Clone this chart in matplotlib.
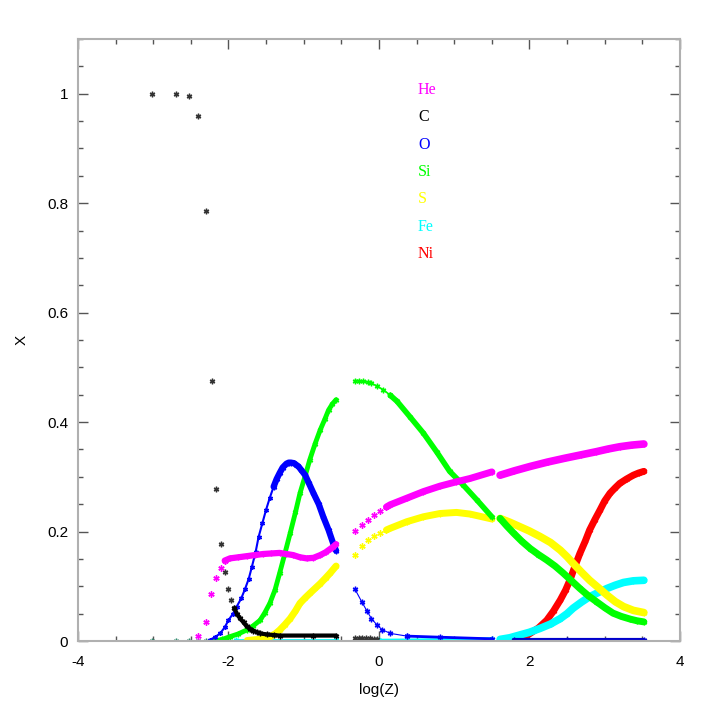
import matplotlib
matplotlib.use("Agg")
import matplotlib.pyplot as plt
from matplotlib.ticker import MultipleLocator, FuncFormatter

plt.rcParams["axes.unicode_minus"] = False
plt.rcParams["font.family"] = ["Liberation Sans", "DejaVu Sans"]

# ---- data (log Z, mass fraction X) ----
# He
he_a_pts_x = [-2.40, -2.30, -2.23, -2.16, -2.10, -2.05]
he_a_pts_y = [0.009, 0.035, 0.086, 0.116, 0.134, 0.147]
he_a_x = [-2.05, -1.98, -1.87, -1.76, -1.65, -1.54, -1.43, -1.32, -1.23, -1.14, -1.05,
          -0.96, -0.87, -0.78, -0.71, -0.65, -0.61, -0.57]
he_a_y = [0.147, 0.151, 0.153, 0.155, 0.157, 0.159, 0.160, 0.161, 0.159, 0.157, 0.153,
          0.151, 0.152, 0.157, 0.162, 0.168, 0.172, 0.177]
he_b_pts_x = [-0.32, -0.23, -0.14, -0.06, 0.02, 0.10]
he_b_pts_y = [0.201, 0.212, 0.221, 0.230, 0.238, 0.245]
he_b_x = [0.10, 0.15, 0.37, 0.59, 0.81, 1.03, 1.21, 1.50]
he_b_y = [0.245, 0.249, 0.261, 0.273, 0.283, 0.291, 0.297, 0.309]
he_c_x = [1.61, 1.80, 2.01, 2.24, 2.47, 2.68, 2.89, 3.05, 3.20, 3.36, 3.52]
he_c_y = [0.303, 0.311, 0.319, 0.327, 0.334, 0.340, 0.346, 0.351, 0.355, 0.358, 0.360]

# C
c_pts_x = [-3.02, -2.70, -2.52, -2.41, -2.30, -2.22, -2.16, -2.10, -2.05, -2.01, -1.96, -1.92]
c_pts_y = [1.0, 1.0, 0.996, 0.96, 0.786, 0.476, 0.277, 0.178, 0.126, 0.095, 0.075, 0.060]
c_a_x = [-1.92, -1.89, -1.85, -1.80, -1.76, -1.71, -1.67, -1.62, -1.58, -1.49, -1.40, -1.32, -0.88, -0.57]
c_a_y = [0.060, 0.050, 0.042, 0.034, 0.027, 0.022, 0.019, 0.016, 0.014, 0.012, 0.011, 0.010, 0.010, 0.010]
c_b_x = [-0.32, -0.27, -0.22, -0.17, -0.12, -0.07, -0.02]
c_b_y = [0.006, 0.006, 0.006, 0.005, 0.005, 0.004, 0.004]

# O
o_a1_x = [-2.25, -2.18, -2.11, -2.05, -2.00, -1.94, -1.89, -1.83, -1.78, -1.73, -1.69,
          -1.64, -1.60, -1.55, -1.50, -1.45, -1.40]
o_a1_y = [0.002, 0.007, 0.014, 0.025, 0.038, 0.050, 0.063, 0.078, 0.095, 0.114, 0.135,
          0.162, 0.190, 0.215, 0.240, 0.262, 0.282]
o_a2_x = [-1.40, -1.36, -1.32, -1.28, -1.23, -1.20, -1.17, -1.13, -1.10, -1.07, -1.03,
          -0.98, -0.93, -0.87, -0.80, -0.74, -0.67, -0.61, -0.57]
o_a2_y = [0.282, 0.296, 0.307, 0.317, 0.324, 0.326, 0.326, 0.325, 0.322, 0.319, 0.312,
          0.303, 0.288, 0.270, 0.250, 0.227, 0.203, 0.179, 0.165]
o_b1_x = [-0.32, -0.23, -0.16, -0.10, -0.03, 0.04, 0.15, 0.37]
o_b1_y = [0.095, 0.072, 0.055, 0.041, 0.030, 0.021, 0.014, 0.009]
o_b2_x = [0.37, 0.81, 1.50]
o_b2_y = [0.009, 0.007, 0.004]
o_c_x = [1.79, 2.50, 3.52]
o_c_y = [0.002, 0.002, 0.002]

# Si
si_zero_x = [-3.02, -2.70, -2.52, -2.41, -2.30]
si_zero_y = [0.0, 0.0, 0.0, 0.0, 0.0]
si_a_x = [-2.20, -2.08, -1.98, -1.87, -1.76, -1.67, -1.58, -1.52, -1.45, -1.38, -1.32, -1.25,
          -1.18, -1.11, -1.05, -0.98, -0.92, -0.85, -0.78, -0.72, -0.67, -0.62, -0.57]
si_a_y = [0.0, 0.003, 0.008, 0.013, 0.020, 0.028, 0.038, 0.051, 0.069, 0.094, 0.124, 0.160,
          0.197, 0.235, 0.270, 0.302, 0.331, 0.360, 0.386, 0.405, 0.422, 0.433, 0.441]
si_b1_x = [-0.32, -0.27, -0.21, -0.15, -0.10, -0.03, 0.06, 0.15]
si_b1_y = [0.476, 0.476, 0.475, 0.473, 0.471, 0.466, 0.459, 0.449]
si_b2_x = [0.15, 0.24, 0.41, 0.59, 0.77, 0.94, 1.12, 1.30, 1.50]
si_b2_y = [0.449, 0.438, 0.410, 0.380, 0.345, 0.310, 0.285, 0.258, 0.227]
si_c_x = [1.61, 1.70, 1.79, 1.90, 2.01, 2.12, 2.23, 2.34, 2.45, 2.56, 2.67, 2.78, 2.89,
          3.00, 3.11, 3.22, 3.34, 3.43, 3.52]
si_c_y = [0.224, 0.210, 0.197, 0.182, 0.169, 0.158, 0.148, 0.137, 0.124, 0.110, 0.096,
          0.083, 0.072, 0.061, 0.051, 0.045, 0.040, 0.037, 0.035]

# S
s_a_x = [-1.75, -1.60, -1.52, -1.45, -1.38, -1.32, -1.25, -1.18, -1.11, -1.05, -0.98,
         -0.92, -0.85, -0.78, -0.71, -0.65, -0.57]
s_a_y = [0.001, 0.003, 0.005, 0.008, 0.013, 0.020, 0.030, 0.041, 0.055, 0.069, 0.079,
         0.087, 0.096, 0.105, 0.115, 0.124, 0.137]
s_b1_x = [-0.32, -0.23, -0.14, -0.06, 0.02, 0.10]
s_b1_y = [0.158, 0.173, 0.184, 0.191, 0.198, 0.203]
s_b2_x = [0.10, 0.15, 0.37, 0.59, 0.81, 1.03, 1.21, 1.50]
s_b2_y = [0.203, 0.206, 0.218, 0.227, 0.233, 0.235, 0.232, 0.223]
s_c_x = [1.61, 1.74, 1.87, 2.00, 2.14, 2.28, 2.41, 2.50, 2.58, 2.69, 2.80, 2.92, 3.03,
         3.14, 3.25, 3.38, 3.52]
s_c_y = [0.224, 0.217, 0.209, 0.201, 0.191, 0.180, 0.166, 0.154, 0.142, 0.126, 0.111,
         0.097, 0.084, 0.072, 0.063, 0.056, 0.052]

# Fe
fe_a_x = [-1.90, -0.57]
fe_a_y = [0.001, 0.001]
fe_b_x = [0.0, 0.80, 1.50]
fe_b_y = [0.001, 0.002, 0.004]
fe_c_x = [1.61, 1.74, 1.87, 2.00, 2.14, 2.28, 2.41, 2.50, 2.58, 2.69, 2.80, 2.92, 3.03,
          3.14, 3.25, 3.38, 3.52]
fe_c_y = [0.003, 0.006, 0.011, 0.016, 0.023, 0.031, 0.041, 0.050, 0.060, 0.071, 0.081,
          0.089, 0.096, 0.102, 0.107, 0.110, 0.111]

# Ni
ni_c_x = [1.79, 1.90, 2.01, 2.12, 2.23, 2.32, 2.41, 2.48, 2.54, 2.60, 2.67, 2.74, 2.80,
          2.87, 2.94, 3.00, 3.07, 3.14, 3.20, 3.29, 3.38, 3.45, 3.52]
ni_c_y = [0.002, 0.006, 0.014, 0.024, 0.038, 0.055, 0.075, 0.093, 0.112, 0.135, 0.160,
          0.182, 0.203, 0.222, 0.240, 0.256, 0.270, 0.280, 0.288, 0.296, 0.303, 0.307, 0.310]

labels = ["He", "C", "O", "Si", "S", "Fe", "Ni"]
colors = ["#ff00ff", "#000000", "#0000ff", "#00ff00", "#ffff00", "#00ffff", "#ff0000"]

STAR = (6, 2, 0)  # asterisk marker

fig = plt.figure(figsize=(7.18, 7.18), dpi=100)
ax = fig.add_axes([0.1086, 0.1072, 0.8384, 0.8385])


def draw(x, y, color, lw=0.0, ms=4.0):
    ax.plot(x, y, color=color, lw=lw if lw > 0 else 0, linestyle="-" if lw > 0 else "none",
            marker=STAR, ms=ms, mew=1.0, solid_capstyle="round", solid_joinstyle="round")


# Ni, Fe, S, Si, O, C, He  (He ends up on top)
draw(ni_c_x, ni_c_y, colors[6], lw=5)

draw(fe_a_x, fe_a_y, colors[5], lw=2)
draw(fe_b_x, fe_b_y, colors[5], lw=2.5)
draw(fe_c_x, fe_c_y, colors[5], lw=5.5)

draw(s_a_x, s_a_y, colors[4], lw=5)
draw(s_b1_x, s_b1_y, colors[4], ms=4.5)
draw(s_b2_x, s_b2_y, colors[4], lw=5)
draw(s_c_x, s_c_y, colors[4], lw=5.5)

draw(si_zero_x, si_zero_y, "#2e8b6e")
draw(si_a_x, si_a_y, colors[3], lw=3.5)
draw(si_b1_x, si_b1_y, colors[3], lw=1.2, ms=4)
draw(si_b2_x, si_b2_y, colors[3], lw=4)
draw(si_c_x, si_c_y, colors[3], lw=5)

draw(o_a1_x, o_a1_y, colors[2], lw=1.5, ms=3.5)
draw(o_a2_x, o_a2_y, colors[2], lw=4.5)
draw(o_b1_x, o_b1_y, colors[2], lw=0.8, ms=4)
draw(o_b2_x, o_b2_y, colors[2], lw=2)
draw(o_c_x, o_c_y, "#0000cc", lw=3)

draw(c_pts_x, c_pts_y, "#333333", ms=4)
draw(c_a_x, c_a_y, colors[1], lw=3, ms=4)
draw(c_b_x, c_b_y, "#333333", ms=4)

draw(he_a_pts_x, he_a_pts_y, colors[0], ms=4.5)
draw(he_a_x, he_a_y, colors[0], lw=4.5)
draw(he_b_pts_x, he_b_pts_y, colors[0], ms=4.5)
draw(he_b_x, he_b_y, colors[0], lw=5)
draw(he_c_x, he_c_y, colors[0], lw=5.5)

# element key
for i, (lab, col) in enumerate(zip(labels, colors)):
    ax.text(0.52, 1.007 - 0.05 * i, lab, color=col, fontsize=11.5,
            family=["Liberation Serif", "DejaVu Serif"], va="center", ha="left")

ax.set_xlim(-4, 4)
ax.set_ylim(0, 1.1)
ax.xaxis.set_major_locator(MultipleLocator(2))
ax.xaxis.set_minor_locator(MultipleLocator(0.5))
ax.yaxis.set_major_locator(MultipleLocator(0.2))
ax.yaxis.set_minor_locator(MultipleLocator(0.05))
ax.xaxis.set_major_formatter(FuncFormatter(lambda v, p: f"{v:g}"))
ax.yaxis.set_major_formatter(FuncFormatter(lambda v, p: f"{v:.1f}".rstrip("0").rstrip(".") if v else "0"))

ax.tick_params(which="both", direction="in", top=True, right=True, color="#555555",
               labelsize=11)
ax.tick_params(which="major", length=7.5, width=1.0)
ax.tick_params(which="minor", length=3.8, width=1.0)
ax.tick_params(axis="x", pad=10)
ax.tick_params(axis="y", pad=7)
for sp in ax.spines.values():
    sp.set_color("#b0b0b0")
    sp.set_linewidth(1.5)

ax.set_xlabel("log(Z)", fontsize=11, labelpad=10)
ax.set_ylabel("X", fontsize=11, labelpad=13)

fig.savefig("out.png", dpi=100, facecolor="white")
